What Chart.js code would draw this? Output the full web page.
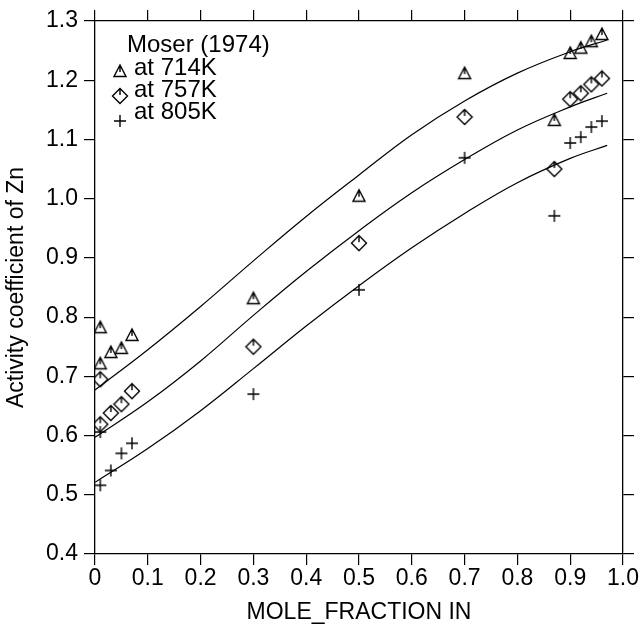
<!DOCTYPE html>
<html>
<head>
<meta charset="utf-8">
<script src="https://cdn.jsdelivr.net/npm/chart.js@4"></script>
<style>
  body{ margin:0; background:#fff; }
  canvas{ display:block; }
</style>
</head>
<body>
<canvas id="myChart" width="641" height="629"></canvas>
<script>
// measured points (Moser 1974)
var xMeasured = [0.01, 0.01, 0.03, 0.05, 0.07, 0.30, 0.50, 0.70, 0.87, 0.90, 0.92, 0.94, 0.96];
var gamma714 = [0.783, 0.722, 0.741, 0.748, 0.770, 0.832, 1.005, 1.212, 1.133, 1.246, 1.255, 1.266, 1.278];
var gamma757 = [0.695, 0.619, 0.638, 0.653, 0.675, 0.750, 0.925, 1.138, 1.050, 1.168, 1.178, 1.193, 1.203];
var gamma805 = [0.606, 0.516, 0.541, 0.570, 0.587, 0.670, 0.846, 1.069, 0.971, 1.094, 1.104, 1.121, 1.131];

// calculated curves
var xCurve  = [0, 0.1, 0.2, 0.3, 0.4, 0.5, 0.6, 0.7, 0.8, 0.9, 0.97];
var curve714 = [0.677, 0.745, 0.818, 0.895, 0.970, 1.040, 1.108, 1.165, 1.212, 1.248, 1.268];
var curve757 = [0.597, 0.657, 0.726, 0.803, 0.877, 0.946, 1.010, 1.066, 1.116, 1.155, 1.178];
var curve805 = [0.521, 0.578, 0.642, 0.713, 0.785, 0.853, 0.917, 0.975, 1.027, 1.068, 1.090];

var xTicks = [0, 0.1, 0.2, 0.3, 0.4, 0.5, 0.6, 0.7, 0.8, 0.9, 1.0];
var yTicks = [0.4, 0.5, 0.6, 0.7, 0.8, 0.9, 1.0, 1.1, 1.2, 1.3];

var legendTitle = "Moser (1974)";
var legendLabels = ["at 714K", "at 757K", "at 805K"];

var FONT = "'Liberation Sans', Arial, Helvetica, sans-serif";

function marker(kind){
  var c = document.createElement("canvas");
  c.width = 18; c.height = 18;
  var g = c.getContext("2d");
  g.strokeStyle = "#000";
  g.lineWidth = 1.4;
  g.beginPath();
  if (kind == "tri"){
    g.moveTo(9, 3); g.lineTo(3, 14.5); g.lineTo(15, 14.5); g.closePath();
    g.moveTo(9, 3); g.lineTo(9, 10);
  } else if (kind == "dia"){
    g.moveTo(9, 1.5); g.lineTo(16.5, 9); g.lineTo(9, 16.5); g.lineTo(1.5, 9); g.closePath();
    g.moveTo(9, 1.5); g.lineTo(9, 8);
  } else {
    g.moveTo(9, 3); g.lineTo(9, 15); g.moveTo(3, 9); g.lineTo(15, 9);
  }
  g.stroke();
  return c;
}
var markers = [marker("tri"), marker("dia"), marker("plus")];

function pts(xs, ys){
  return xs.map(function(x, i){ return {x: x, y: ys[i]}; });
}

function scatterSet(ys, m){
  return { type: "scatter", data: pts(xMeasured, ys), pointStyle: m, pointRadius: 8,
           showLine: false, borderColor: "#000", backgroundColor: "#000" };
}
function curveSet(ys){
  return { type: "line", data: pts(xCurve, ys), borderColor: "#000", borderWidth: 1.2,
           pointRadius: 0, tension: 0.4, fill: false };
}

var legendPlugin = {
  id: "mosers",
  afterDraw: function(chart){
    var ctx = chart.ctx;
    ctx.save();
    ctx.fillStyle = "#000";
    ctx.textBaseline = "middle";
    ctx.font = "24px " + FONT;
    ctx.fillText(legendTitle, 127, 45);
    var textY = [68, 90, 112];
    var markY = [71, 96, 121];
    for (var i = 0; i < legendLabels.length; i++){
      ctx.fillText(legendLabels[i], 134, textY[i]);
      ctx.drawImage(markers[i], 120 - 9, markY[i] - 9);
    }
    ctx.restore();
  }
};

function axisCommon(ticks){
  return {
    type: "linear",
    min: ticks[0], max: ticks[ticks.length - 1],
    afterBuildTicks: function(scale){ scale.ticks = ticks.map(function(v){ return {value: v}; }); },
    grid: { display: true, drawOnChartArea: false, drawTicks: true, tickLength: 11, color: "#000", lineWidth: 1.2 },
    border: { display: true, color: "#000", width: 1.3 }
  };
}

var xAxis = axisCommon(xTicks);
xAxis.position = "bottom";
xAxis.ticks = { color: "#000", font: {family: FONT, size: 23}, padding: 0, maxRotation: 0,
  callback: function(v){ return v == 0 ? "0" : v.toFixed(1); } };
xAxis.title = { display: true, text: "MOLE_FRACTION IN", color: "#000", font: {family: FONT, size: 23}, padding: {top: 0, bottom: 3} };
xAxis.afterFit = function(s){ s.height = 75; };

var yAxis = axisCommon(yTicks);
yAxis.position = "left";
yAxis.ticks = { color: "#000", font: {family: FONT, size: 23}, padding: 6,
  callback: function(v){ return v.toFixed(1); } };
yAxis.title = { display: true, text: "Activity coefficient of Zn", color: "#000", font: {family: FONT, size: 23}, padding: {top: 3, bottom: 0} };
yAxis.afterFit = function(s){ s.width = 95; };

var xTop = axisCommon(xTicks);
xTop.position = "top";
xTop.ticks = { display: false };
xTop.afterFit = function(s){ s.height = 21; };

var yRight = axisCommon(yTicks);
yRight.position = "right";
yRight.ticks = { display: false };
yRight.afterFit = function(s){ s.width = 18; };

var ctx = document.getElementById("myChart").getContext("2d");
var myChart = new Chart(ctx, {
  data: {
    datasets: [
      curveSet(curve714), curveSet(curve757), curveSet(curve805),
      scatterSet(gamma714, markers[0]), scatterSet(gamma757, markers[1]), scatterSet(gamma805, markers[2])
    ]
  },
  options: {
    responsive: false,
    animation: false,
    layout: { padding: 0 },
    plugins: { legend: { display: false }, tooltip: { enabled: false } },
    scales: { x: xAxis, y: yAxis, x2: xTop, y2: yRight }
  },
  plugins: [legendPlugin]
});
</script>
</body>
</html>
